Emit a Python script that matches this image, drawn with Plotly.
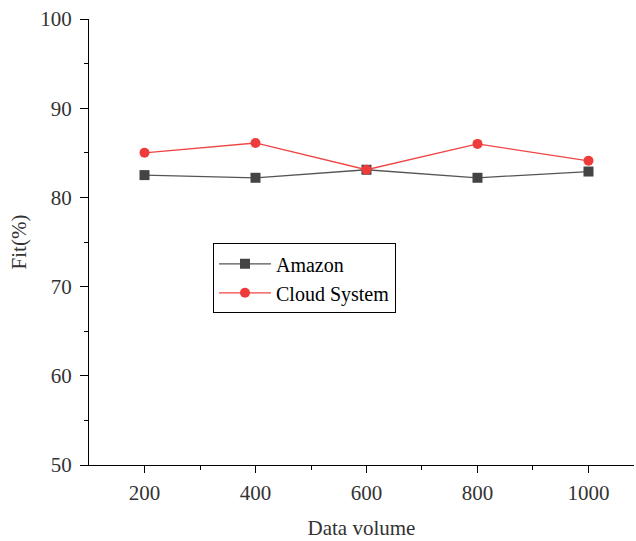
import plotly.graph_objects as go

x_vals = [200, 400, 600, 800, 1000]
amazon = [82.5, 82.2, 83.1, 82.2, 82.9]
cloud = [85.0, 86.1, 83.1, 86.0, 84.1]

fig = go.Figure()
fig.add_trace(go.Scatter(x=x_vals, y=amazon, name="Amazon", mode="lines+markers",
                         line=dict(color="#555555", width=1.3),
                         marker=dict(symbol="square", size=10, color="#444444")))
fig.add_trace(go.Scatter(x=x_vals, y=cloud, name="Cloud System", mode="lines+markers",
                         line=dict(color="#f04545", width=1.3),
                         marker=dict(symbol="circle", size=10, color="#ee3b3b")))

font = "Liberation Serif, Times New Roman, serif"
fig.update_layout(
    width=636, height=541,
    margin=dict(l=89, r=2, t=19, b=76),
    plot_bgcolor="white", paper_bgcolor="white",
    font=dict(family=font, size=21, color="#333333"),
    showlegend=True,
    legend=dict(x=0.2275, y=0.497, xanchor="left", yanchor="top",
                bordercolor="black", borderwidth=1, bgcolor="white",
                font=dict(family=font, size=20, color="black"),
                tracegroupgap=0, itemwidth=52),
    xaxis=dict(range=[100, 1082], tickvals=x_vals, showline=True, linecolor="black",
               linewidth=1.2, ticks="outside", ticklen=7, tickcolor="black",
               showgrid=False, zeroline=False, ticklabelstandoff=2,
               minor=dict(tickvals=[300, 500, 700, 900], ticks="outside", ticklen=4, tickcolor="black"),
               title=dict(text="Data volume", font=dict(family=font, size=21, color="#333333"), standoff=16)),
    yaxis=dict(range=[50, 100], tickvals=[50, 60, 70, 80, 90, 100], showline=True, linecolor="black",
               linewidth=1.2, ticks="outside", ticklen=8, tickcolor="black",
               showgrid=False, zeroline=False, ticklabelstandoff=4,
               minor=dict(tickvals=[55, 65, 75, 85, 95], ticks="outside", ticklen=4, tickcolor="black"),
               title=dict(text="Fit(%)", font=dict(family=font, size=21, color="#333333"), standoff=7)),
)
fig.write_html("out.html")
